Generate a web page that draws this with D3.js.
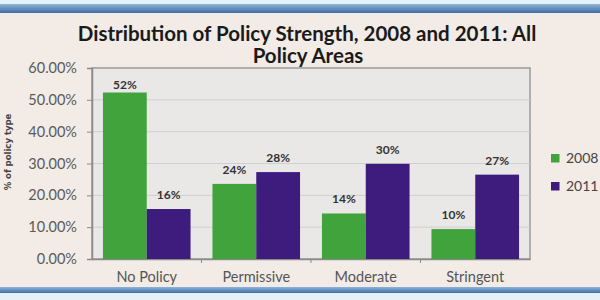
<!DOCTYPE html>
<html>
<head>
<meta charset="utf-8">
<script src="https://cdn.jsdelivr.net/npm/d3@7"></script>
<style>
  body { margin: 0; background: #f2ebe6; }
  svg { display: block; }
</style>
</head>
<body>
<svg width="600" height="300"></svg>
<script>
// chart data
const categories = ["No Policy", "Permissive", "Moderate", "Stringent"];
const seriesNames = ["2008", "2011"];
const values2008 = [0.523, 0.236, 0.143, 0.094];
const values2011 = [0.157, 0.273, 0.299, 0.265];
const labels2008 = ["52%", "24%", "14%", "10%"];
const labels2011 = ["16%", "28%", "30%", "27%"];
const yTicks = [0, 0.1, 0.2, 0.3, 0.4, 0.5, 0.6];

const colors = { "2008": "#41a33c", "2011": "#3d1c7d" };

const svg = d3.select("svg");
const W = 600, H = 300;
const plot = { left: 92, top: 68, right: 530, bottom: 259 };

// frame bands top and bottom
const defs = svg.append("defs");
const grad = defs.append("linearGradient").attr("id", "band").attr("x1", 0).attr("y1", 0).attr("x2", 0).attr("y2", 1);
grad.append("stop").attr("offset", 0).attr("stop-color", "#8fb4d8");
grad.append("stop").attr("offset", 1).attr("stop-color", "#3d6fa5");

svg.append("rect").attr("x", 0).attr("y", 0).attr("width", W).attr("height", 4).attr("fill", "#e4f1f8");
svg.append("rect").attr("x", 0).attr("y", 4).attr("width", W).attr("height", 9).attr("fill", "url(#band)");
svg.append("rect").attr("x", 0).attr("y", 287).attr("width", W).attr("height", 6).attr("fill", "url(#band)");
svg.append("rect").attr("x", 0).attr("y", 293).attr("width", W).attr("height", 7).attr("fill", "#e4f1f8");

const x0 = d3.scaleBand().domain(categories).range([plot.left, plot.right]).paddingInner(0.2).paddingOuter(0.1);
const x1 = d3.scaleBand().domain(seriesNames).range([0, x0.bandwidth()]);
const y = d3.scaleLinear().domain([0, 0.6]).range([plot.bottom, plot.top]);

// plot area
svg.append("rect")
  .attr("x", plot.left).attr("y", plot.top)
  .attr("width", plot.right - plot.left).attr("height", plot.bottom - plot.top)
  .attr("fill", "#eae8e7").attr("stroke", "#9a9a9a").attr("stroke-width", 1.5);

svg.append("g").selectAll("line")
  .data(yTicks.slice(1, -1))
  .join("line")
  .attr("x1", plot.left).attr("x2", plot.right)
  .attr("y1", d => y(d)).attr("y2", d => y(d))
  .attr("stroke", "#cfcfcf").attr("stroke-width", 1);

// y axis
const yAxis = svg.append("g")
  .attr("transform", `translate(${plot.left},0)`)
  .call(d3.axisLeft(y).tickValues(yTicks).tickFormat(d3.format(".2%")).tickSize(5).tickPadding(10));
yAxis.select(".domain").attr("stroke", "#8a8a8a").attr("stroke-width", 1.5);
yAxis.selectAll(".tick line").attr("stroke", "#8a8a8a");
yAxis.selectAll("text").attr("font-family", "Lato, 'Open Sans', sans-serif").attr("font-size", 14.5).attr("fill", "#5a5a5a");

// x axis
const xAxis = svg.append("g").attr("transform", `translate(0,${plot.bottom})`)
  .call(d3.axisBottom(x0).tickSize(0).tickPadding(13));
xAxis.select(".domain").attr("stroke", "#8a8a8a").attr("stroke-width", 1.5);
xAxis.selectAll("text").attr("font-family", "Lato, 'Open Sans', sans-serif").attr("font-size", 14.5).attr("fill", "#555");
// tick marks between categories
svg.append("g").selectAll("line")
  .data(categories.slice(1))
  .join("line")
  .attr("x1", d => x0(d) - x0.step() * x0.paddingInner() / 2)
  .attr("x2", d => x0(d) - x0.step() * x0.paddingInner() / 2)
  .attr("y1", plot.bottom).attr("y2", plot.bottom + 4)
  .attr("stroke", "#8a8a8a");

// bars
const rows = categories.map((c, i) => ({
  cat: c,
  vals: [
    { s: "2008", v: values2008[i], label: labels2008[i] },
    { s: "2011", v: values2011[i], label: labels2011[i] }
  ]
}));

const groups = svg.append("g").selectAll("g")
  .data(rows)
  .join("g")
  .attr("transform", d => `translate(${x0(d.cat)},0)`);

groups.selectAll("rect")
  .data(d => d.vals)
  .join("rect")
  .attr("x", d => x1(d.s))
  .attr("width", x1.bandwidth())
  .attr("y", d => y(d.v))
  .attr("height", d => y(0) - y(d.v))
  .attr("fill", d => colors[d.s]);

// labels sit above the bar, but stay inside the plot area
groups.selectAll("text")
  .data(d => d.vals)
  .join("text")
  .attr("x", d => x1(d.s) + x1.bandwidth() / 2)
  .attr("y", d => Math.max(y(d.v) - 10, plot.top + 21))
  .attr("text-anchor", "middle")
  .attr("font-family", "Lato, 'Open Sans', sans-serif")
  .attr("font-weight", "bold")
  .attr("font-size", 12)
  .attr("fill", "#333")
  .text(d => d.label);

// title
const title = svg.append("text")
  .attr("text-anchor", "middle")
  .attr("font-family", "Lato, 'Open Sans', sans-serif")
  .attr("font-weight", "bold")
  .attr("font-size", 20.5)
  .attr("fill", "#1a1a1a");
title.append("tspan").attr("x", 307).attr("y", 41).text("Distribution of Policy Strength,  2008 and 2011: All");
title.append("tspan").attr("x", 308).attr("y", 63).text("Policy Areas");

// y axis title
svg.append("text")
  .attr("transform", "translate(11,152) rotate(-90)")
  .attr("text-anchor", "middle")
  .attr("font-family", "'DejaVu Sans', sans-serif")
  .attr("font-weight", "bold")
  .attr("font-size", 8.5)
  .attr("fill", "#444")
  .text("% of policy type");

// legend
const legend = svg.append("g").selectAll("g")
  .data(seriesNames)
  .join("g")
  .attr("transform", (d, i) => `translate(551,${154 + i * 28})`);
legend.append("rect").attr("width", 8.5).attr("height", 8.5).attr("fill", d => colors[d]);
legend.append("text")
  .attr("x", 15).attr("y", 9)
  .attr("font-family", "Lato, 'Open Sans', sans-serif")
  .attr("font-size", 14)
  .attr("fill", "#444")
  .text(d => d);
</script>
</body>
</html>
